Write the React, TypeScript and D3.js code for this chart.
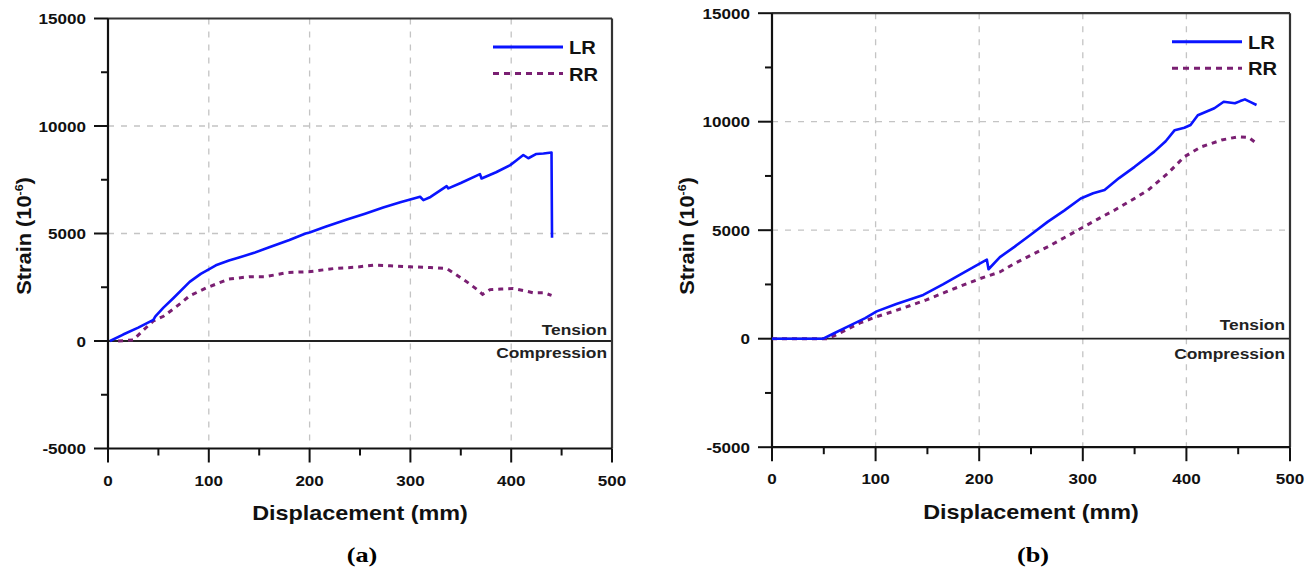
import React from 'react';
import * as d3 from 'd3';

const xTicks = [0, 100, 200, 300, 400, 500];
const xMinor = [50, 150, 250, 350, 450];
const yTicks = [-5000, 0, 5000, 10000, 15000];
const yMinor = [-2500, 2500, 7500, 12500];
const gridX = [100, 200, 300, 400];
const gridY = [5000, 10000];
const seriesNames = ['LR', 'RR'];

// Panel (a)
const aLRx = [2, 15, 30, 45, 47, 55, 65, 81, 92, 100, 107, 120, 130, 145, 160, 180, 196, 200, 215, 237, 255, 273, 290, 309.6, 312.9, 320, 336, 337.6, 350, 369, 370.6, 385, 399, 405, 412, 417, 425, 432, 440, 440.5];
const aLRy = [0, 300, 620, 980, 1150, 1550, 2000, 2750, 3120, 3330, 3520, 3740, 3880, 4100, 4360, 4700, 5000, 5050, 5300, 5650, 5920, 6210, 6450, 6710, 6550, 6700, 7200, 7100, 7350, 7760, 7560, 7850, 8180, 8400, 8650, 8500, 8700, 8720, 8770, 4800];
const aRRx = [10, 25, 35, 45, 55, 64.5, 72, 81, 90, 97, 110, 120, 140, 156, 179, 199, 224, 245, 263, 280, 300, 320, 336, 345, 356, 366, 371.6, 379, 390, 402, 412, 422, 432, 440];
const aRRy = [0, 50, 500, 935, 1150, 1480, 1750, 2100, 2300, 2460, 2700, 2880, 2990, 2990, 3190, 3220, 3370, 3430, 3525, 3500, 3450, 3420, 3370, 3100, 2750, 2400, 2170, 2390, 2420, 2440, 2350, 2240, 2250, 2120];

// Panel (b)
const bLRx = [0, 20, 49.4, 60, 75, 90, 101, 120, 146, 165, 185, 200, 207.4, 209, 220, 234, 250, 266, 282, 298, 310, 321, 335, 350, 369, 380, 388.7, 398, 404, 411, 427, 436, 446.8, 452, 456.5, 462, 467.7];
const bLRy = [0, 0, 0, 250, 600, 950, 1260, 1600, 2015, 2500, 3050, 3450, 3640, 3200, 3760, 4230, 4800, 5385, 5900, 6460, 6700, 6850, 7400, 7920, 8620, 9100, 9610, 9720, 9850, 10300, 10620, 10920, 10850, 10950, 11030, 10900, 10770];
const bRRx = [0, 54, 65, 85, 100, 117, 133, 149, 165, 182, 201, 220, 234, 250, 266, 282, 298, 314, 330.6, 347, 363, 382, 398, 414.5, 434, 450, 460, 467.7];
const bRRy = [0, 0, 250, 727, 1000, 1258, 1520, 1788, 2100, 2424, 2773, 3076, 3460, 3850, 4230, 4650, 5077, 5500, 5923, 6380, 6846, 7615, 8385, 8846, 9154, 9308, 9277, 9000];

const FONT = "'Liberation Sans', Arial, sans-serif";
const LR_COLOR = '#0a14ff';
const RR_COLOR = '#7a1f72';

type TProps = {
  x: number; y: number; sx?: number; size: number; anchor?: string; children: React.ReactNode;
  family?: string; fill?: string;
};
const T = ({ x, y, sx = 1.12, size, anchor = 'start', children, family = FONT, fill = '#111' }: TProps) => (
  <text
    transform={`translate(${x},${y}) scale(${sx},1)`}
    fontFamily={family}
    fontWeight="bold"
    fontSize={size}
    textAnchor={anchor}
    fill={fill}
  >
    {children}
  </text>
);

type PanelProps = {
  left: number; right: number; top: number; bottom: number;
  lrx: number[]; lry: number[]; rrx: number[]; rry: number[];
  label: string; legX: number; legY: number; tensionY: number; compY: number; titleY: number; yTitleX: number; yTitleY: number;
};

const Panel = (p: PanelProps) => {
  const x = d3.scaleLinear().domain([0, 500]).range([p.left, p.right]);
  const y = d3.scaleLinear().domain([-5000, 15000]).range([p.bottom, p.top]);
  const line = d3.line<[number, number]>().x(d => x(d[0])).y(d => y(d[1]));
  const lr = line(p.lrx.map((v, i) => [v, p.lry[i]] as [number, number])) || '';
  const rr = line(p.rrx.map((v, i) => [v, p.rry[i]] as [number, number])) || '';
  const cx = (p.left + p.right) / 2;
  return (
    <g>
      {gridX.map(v => (
        <line key={'gx' + v} x1={x(v)} x2={x(v)} y1={y(15000)} y2={y(-5000)} stroke="#c4c4c4" strokeWidth={1.3} strokeDasharray="6,7" />
      ))}
      {gridY.map(v => (
        <line key={'gy' + v} x1={x(0)} x2={x(500)} y1={y(v)} y2={y(v)} stroke="#c4c4c4" strokeWidth={1.3} strokeDasharray="6,7" />
      ))}
      <line x1={x(0)} x2={x(500)} y1={y(0)} y2={y(0)} stroke="#222" strokeWidth={1.8} />
      <line x1={x(0)} x2={x(500)} y1={y(15000)} y2={y(15000)} stroke="#333" strokeWidth={2.2} />
      <line x1={x(500)} x2={x(500)} y1={y(15000)} y2={y(-5000)} stroke="#333" strokeWidth={2.2} />
      <line x1={x(0)} x2={x(500)} y1={y(-5000)} y2={y(-5000)} stroke="#111" strokeWidth={2.2} />
      <line x1={x(0)} x2={x(0)} y1={y(15000)} y2={y(-5000)} stroke="#111" strokeWidth={2.2} />
      {yTicks.map(v => (
        <g key={'yt' + v}>
          <line x1={x(0) - 14} x2={x(0)} y1={y(v)} y2={y(v)} stroke="#111" strokeWidth={2} />
          <T x={x(0) - 22} y={y(v) + 5.5} size={15.5} anchor="end" sx={1.1}>{v}</T>
        </g>
      ))}
      {yMinor.map(v => (
        <line key={'ym' + v} x1={x(0) - 7} x2={x(0)} y1={y(v)} y2={y(v)} stroke="#111" strokeWidth={2} />
      ))}
      {xTicks.map(v => (
        <g key={'xt' + v}>
          <line x1={x(v)} x2={x(v)} y1={y(-5000)} y2={y(-5000) + 14} stroke="#111" strokeWidth={2} />
          <T x={x(v)} y={y(-5000) + 37} size={15.5} anchor="middle" sx={1.1}>{v}</T>
        </g>
      ))}
      {xMinor.map(v => (
        <line key={'xm' + v} x1={x(v)} x2={x(v)} y1={y(-5000)} y2={y(-5000) + 7} stroke="#111" strokeWidth={2} />
      ))}
      <path d={rr} fill="none" stroke={RR_COLOR} strokeWidth={3} strokeDasharray="5,5" />
      <path d={lr} fill="none" stroke={LR_COLOR} strokeWidth={2.6} strokeLinejoin="round" />
      <line x1={p.legX} x2={p.legX + 70} y1={p.legY} y2={p.legY} stroke={LR_COLOR} strokeWidth={3} />
      <T x={p.legX + 76} y={p.legY + 7} size={17.5} sx={1.15}>{seriesNames[0]}</T>
      <line x1={p.legX} x2={p.legX + 70} y1={p.legY + 26.6} y2={p.legY + 26.6} stroke={RR_COLOR} strokeWidth={3} strokeDasharray="6,5" />
      <T x={p.legX + 76} y={p.legY + 33.6} size={17.5} sx={1.15}>{seriesNames[1]}</T>
      <T x={x(500) - 5} y={p.tensionY} size={15.5} anchor="end" sx={1.12} fill="#222">Tension</T>
      <T x={x(500) - 5} y={p.compY} size={15.5} anchor="end" sx={1.12} fill="#222">Compression</T>
      <T x={cx} y={p.titleY} size={19.5} anchor="middle" sx={1.2} fill="#111">Displacement (mm)</T>
      <text
        transform={`translate(${p.yTitleX},${p.yTitleY}) rotate(-90) scale(1.12,1)`}
        fontFamily={FONT} fontWeight="bold" fontSize={19.5} textAnchor="middle" fill="#111"
      >
        Strain (10<tspan fontSize={11} dy={-8}>-6</tspan><tspan dy={8}>)</tspan>
      </text>
      <T x={cx + 2} y={562} size={21} anchor="middle" sx={1.25} family="'Liberation Serif', 'Times New Roman', serif" fill="#000">{p.label}</T>
    </g>
  );
};

export default function App() {
  return (
    <svg width={1316} height={569} style={{ position: 'absolute', left: 0, top: 0, background: '#fff' }}>
      <rect x={0} y={0} width={1316} height={569} fill="#fff" />
      <Panel left={108} right={612} top={18.5} bottom={448.5}
        lrx={aLRx} lry={aLRy} rrx={aRRx} rry={aRRy}
        label="(a)" legX={493} legY={47} tensionY={335} compY={358} titleY={520} yTitleX={31} yTitleY={236} />
      <Panel left={772} right={1290} top={13.2} bottom={447.2}
        lrx={bLRx} lry={bLRy} rrx={bRRx} rry={bRRy}
        label="(b)" legX={1172} legY={41.7} tensionY={330} compY={359} titleY={519} yTitleX={694} yTitleY={236} />
    </svg>
  );
}
